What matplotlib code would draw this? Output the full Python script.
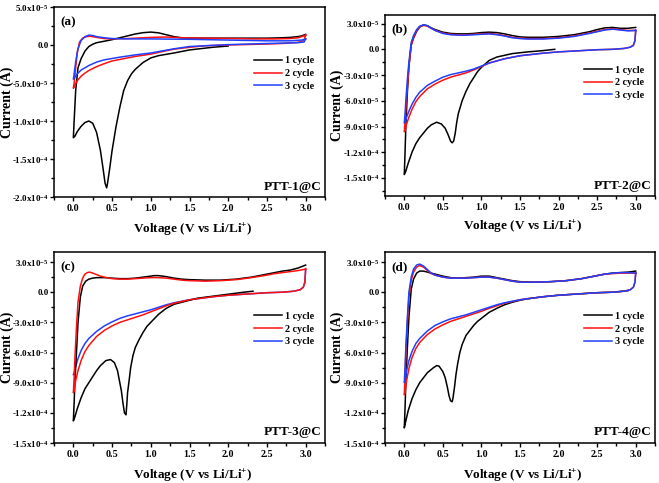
import numpy as np
import matplotlib
matplotlib.use("Agg")
import matplotlib.pyplot as plt
from matplotlib.ticker import AutoMinorLocator

plt.rcParams['font.family'] = 'Liberation Serif'
plt.rcParams['font.weight'] = 'bold'
plt.rcParams['mathtext.fontset'] = 'custom'
plt.rcParams['mathtext.rm'] = 'Liberation Serif:bold'
plt.rcParams['mathtext.bf'] = 'Liberation Serif:bold'
plt.rcParams['mathtext.it'] = 'Liberation Serif:bold:italic'

# ---- data: voltage (V) and current (x1e-5 A) along the sweep ----
# PTT-1@C
a1_v = [2.0, 1.8, 1.5, 1.3, 1.1, 1.0, 0.9, 0.8, 0.75, 0.7, 0.65, 0.6, 0.55, 0.5, 0.47, 0.44, 0.43, 0.41, 0.38, 0.35,
        0.3, 0.25, 0.2, 0.15, 0.1, 0.05, 0.02, 0.0, 0.01, 0.03, 0.06, 0.1, 0.15, 0.2, 0.25, 0.3, 0.4, 0.5, 0.6, 0.7,
        0.8, 0.9, 1.0, 1.1, 1.2, 1.3, 1.4, 1.5, 1.7, 2.0, 2.3, 2.5, 2.7, 2.8, 2.9, 2.95, 3.0]
a1_i = [-0.13, -0.3, -0.65, -1.05, -1.4, -1.7, -2.3, -3.2, -3.8, -4.7, -6.0, -8.2, -10.8, -13.9, -16.2, -18.3, -18.8, -18.2, -16.0, -13.9,
        -11.5, -10.3, -10.0, -10.2, -10.7, -11.4, -12.0, -12.2, -10.0, -6.0, -3.0, -1.8, -0.8, -0.2, 0.1, 0.3, 0.5, 0.7, 0.95, 1.2,
        1.45, 1.62, 1.7, 1.6, 1.35, 1.1, 0.95, 0.9, 0.9, 0.9, 0.9, 0.9, 0.95, 1.0, 1.1, 1.2, 1.4]
a2_v = [3.0, 2.98, 2.9, 2.7, 2.5, 2.0, 1.7, 1.5, 1.3, 1.2, 1.0, 0.8, 0.6, 0.5, 0.4, 0.3, 0.2, 0.15, 0.1, 0.05,
        0.02, 0.0, 0.01, 0.03, 0.05, 0.08, 0.12, 0.17, 0.22, 0.3, 0.4, 0.5, 0.7, 1.0, 1.2, 1.4, 1.7, 2.0, 2.3, 2.6,
        2.8, 2.9, 2.95, 3.0]
a2_i = [1.3, 0.6, 0.35, 0.2, 0.13, 0.0, -0.1, -0.3, -0.55, -0.75, -1.2, -1.5, -1.9, -2.1, -2.45, -2.85, -3.35, -3.7, -4.1, -4.7,
        -5.3, -5.7, -5.0, -3.0, -1.0, 0.4, 0.9, 1.1, 1.15, 1.0, 0.85, 0.8, 0.85, 1.0, 1.05, 0.95, 0.9, 0.85, 0.8, 0.8,
        0.85, 0.95, 1.1, 1.3]
a3_v = [3.0, 2.98, 2.9, 2.5, 2.0, 1.7, 1.5, 1.3, 1.0, 0.8, 0.6, 0.4, 0.3, 0.2, 0.1, 0.05, 0.02, 0.0, 0.01, 0.03,
        0.06, 0.1, 0.15, 0.2, 0.25, 0.3, 0.4, 0.5, 0.7, 1.0, 1.5, 2.0, 2.5, 2.8, 2.95, 3.0]
a3_i = [0.8, 0.4, 0.3, 0.2, 0.05, -0.1, -0.2, -0.5, -1.05, -1.3, -1.6, -1.95, -2.25, -2.7, -3.3, -3.8, -4.2, -4.5, -3.8, -2.2,
        -0.5, 0.6, 1.1, 1.3, 1.25, 1.1, 0.95, 0.85, 0.8, 0.8, 0.75, 0.65, 0.55, 0.55, 0.65, 0.8]

# PTT-2@C
b1_v = [1.95, 1.8, 1.6, 1.4, 1.2, 1.1, 1.0, 0.95, 0.9, 0.85, 0.8, 0.75, 0.7, 0.68, 0.66, 0.64, 0.62, 0.6, 0.57, 0.53,
        0.48, 0.42, 0.35, 0.3, 0.2, 0.15, 0.1, 0.05, 0.02, 0.0, 0.01, 0.02, 0.04, 0.06, 0.09, 0.12, 0.16, 0.2, 0.25, 0.3,
        0.35, 0.4, 0.5, 0.6, 0.7, 0.8, 0.9, 1.0, 1.1, 1.2, 1.3, 1.4, 1.5, 1.6, 1.8, 2.0, 2.2, 2.4, 2.5, 2.6,
        2.7, 2.8, 2.9, 3.0]
b1_i = [0.0, -0.15, -0.3, -0.5, -0.9, -1.3, -2.1, -2.6, -3.3, -4.0, -4.9, -6.0, -7.5, -8.5, -9.8, -10.7, -10.9, -10.7, -10.0, -9.2,
        -8.7, -8.5, -8.8, -9.2, -10.3, -11.0, -12.0, -13.3, -14.2, -14.6, -12.0, -9.0, -5.0, -2.0, 0.5, 1.3, 2.1, 2.6, 2.85, 2.75,
        2.5, 2.3, 2.0, 1.85, 1.8, 1.8, 1.85, 1.95, 2.0, 1.95, 1.8, 1.6, 1.45, 1.4, 1.4, 1.5, 1.7, 2.05, 2.3, 2.5,
        2.55, 2.45, 2.45, 2.55]
b2_v = [3.0, 2.99, 2.97, 2.93, 2.85, 2.7, 2.5, 2.2, 2.0, 1.8, 1.5, 1.3, 1.1, 1.0, 0.9, 0.8, 0.7, 0.6, 0.5, 0.4,
        0.3, 0.2, 0.15, 0.1, 0.06, 0.03, 0.01, 0.0, 0.01, 0.02, 0.04, 0.06, 0.09, 0.12, 0.16, 0.2, 0.25, 0.3, 0.35, 0.4,
        0.5, 0.6, 0.7, 0.8, 0.9, 1.0, 1.1, 1.2, 1.3, 1.4, 1.5, 1.6, 1.8, 2.0, 2.2, 2.4, 2.5, 2.6, 2.7, 2.8,
        2.9, 3.0]
b2_i = [2.2, 1.0, 0.5, 0.25, 0.1, 0.0, -0.05, -0.2, -0.3, -0.45, -0.75, -1.1, -1.6, -2.0, -2.4, -2.75, -3.0, -3.25, -3.6, -4.05,
        -4.6, -5.5, -6.1, -7.0, -7.9, -8.7, -9.5, -9.6, -8.5, -7.0, -4.5, -2.0, 0.5, 1.4, 2.2, 2.6, 2.8, 2.7, 2.45, 2.2,
        1.9, 1.75, 1.7, 1.7, 1.75, 1.8, 1.85, 1.75, 1.6, 1.4, 1.3, 1.25, 1.25, 1.35, 1.55, 1.9, 2.1, 2.3, 2.4, 2.3,
        2.2, 2.2]
b3_v = b2_v
b3_i = [2.2, 1.0, 0.45, 0.25, 0.1, 0.0, -0.05, -0.2, -0.3, -0.45, -0.75, -1.1, -1.6, -1.95, -2.3, -2.55, -2.75, -2.95, -3.25, -3.7,
        -4.2, -5.0, -5.6, -6.4, -7.2, -7.9, -8.5, -8.6, -7.5, -6.0, -3.5, -1.5, 0.8, 1.6, 2.3, 2.7, 2.85, 2.75, 2.45, 2.2,
        1.85, 1.7, 1.65, 1.65, 1.7, 1.75, 1.8, 1.7, 1.55, 1.35, 1.25, 1.2, 1.2, 1.3, 1.5, 1.85, 2.05, 2.25, 2.35, 2.25,
        2.15, 2.2]

# PTT-3@C
c1_v = [2.32, 2.2, 2.0, 1.8, 1.6, 1.5, 1.4, 1.3, 1.2, 1.1, 1.0, 0.95, 0.9, 0.85, 0.8, 0.77, 0.74, 0.72, 0.7, 0.69,
        0.68, 0.66, 0.64, 0.62, 0.6, 0.57, 0.53, 0.48, 0.42, 0.35, 0.3, 0.2, 0.15, 0.1, 0.05, 0.02, 0.0, 0.01, 0.02, 0.04,
        0.06, 0.09, 0.12, 0.16, 0.2, 0.25, 0.3, 0.4, 0.5, 0.6, 0.7, 0.8, 0.9, 1.0, 1.05, 1.1, 1.2, 1.3, 1.4, 1.5,
        1.7, 1.9, 2.1, 2.3, 2.5, 2.6, 2.7, 2.8, 2.9, 3.0]
c1_i = [0.1, 0.0, -0.2, -0.4, -0.6, -0.8, -1.0, -1.2, -1.6, -2.2, -3.0, -3.4, -4.0, -4.7, -5.5, -6.3, -7.5, -8.8, -10.0, -11.2,
        -12.2, -12.0, -11.0, -9.8, -9.0, -7.8, -7.0, -6.7, -6.8, -7.3, -7.8, -9.0, -9.6, -10.5, -11.6, -12.4, -12.8, -11.0, -9.0, -6.0,
        -3.0, -0.5, 0.6, 1.1, 1.3, 1.4, 1.45, 1.45, 1.4, 1.35, 1.35, 1.4, 1.5, 1.6, 1.65, 1.65, 1.55, 1.4, 1.3, 1.25,
        1.2, 1.2, 1.3, 1.5, 1.8, 1.95, 2.1, 2.2, 2.4, 2.7]
c2_v = [3.0, 2.99, 2.97, 2.93, 2.85, 2.7, 2.5, 2.2, 2.0, 1.8, 1.5, 1.3, 1.2, 1.1, 1.0, 0.9, 0.8, 0.7, 0.6, 0.5,
        0.4, 0.3, 0.2, 0.15, 0.1, 0.06, 0.03, 0.01, 0.0, 0.01, 0.02, 0.04, 0.06, 0.09, 0.12, 0.15, 0.18, 0.21, 0.25, 0.3,
        0.35, 0.4, 0.5, 0.6, 0.7, 0.8, 0.9, 1.0, 1.1, 1.2, 1.3, 1.4, 1.5, 1.7, 1.9, 2.1, 2.3, 2.5, 2.6, 2.7,
        2.8, 2.9, 3.0]
c2_i = [2.3, 1.0, 0.5, 0.25, 0.1, 0.0, -0.05, -0.2, -0.3, -0.45, -0.75, -1.1, -1.35, -1.65, -1.95, -2.25, -2.5, -2.75, -3.0, -3.35,
        -3.8, -4.4, -5.3, -5.9, -6.8, -7.8, -8.8, -9.8, -10.0, -8.5, -6.5, -3.5, -1.0, 0.6, 1.4, 1.8, 1.95, 2.0, 1.9, 1.75,
        1.6, 1.5, 1.35, 1.3, 1.3, 1.35, 1.4, 1.45, 1.45, 1.4, 1.3, 1.2, 1.15, 1.1, 1.15, 1.25, 1.45, 1.7, 1.85, 1.95,
        2.05, 2.15, 2.3]
c3_v = [3.0, 2.99, 2.97, 2.93, 2.85, 2.7, 2.5, 2.2, 2.0, 1.8, 1.5, 1.3, 1.2, 1.1, 1.0, 0.9, 0.8, 0.7, 0.6, 0.5,
        0.4, 0.3, 0.2, 0.15, 0.1, 0.06, 0.03, 0.01, 0.0]
c3_i = [2.3, 1.0, 0.5, 0.25, 0.1, 0.0, -0.05, -0.2, -0.3, -0.45, -0.75, -1.05, -1.25, -1.5, -1.75, -1.95, -2.15, -2.35, -2.6, -2.95,
        -3.35, -3.9, -4.6, -5.1, -5.8, -6.6, -7.4, -8.0, -8.2]

# PTT-4@C
d1_v = [2.9, 2.7, 2.5, 2.2, 2.0, 1.8, 1.6, 1.5, 1.4, 1.3, 1.2, 1.1, 1.0, 0.95, 0.9, 0.85, 0.8, 0.75, 0.72, 0.69,
        0.67, 0.65, 0.63, 0.62, 0.6, 0.58, 0.56, 0.53, 0.5, 0.45, 0.42, 0.38, 0.3, 0.2, 0.15, 0.1, 0.05, 0.02, 0.0, 0.01,
        0.02, 0.04, 0.06, 0.09, 0.12, 0.16, 0.2, 0.25, 0.3, 0.4, 0.5, 0.6, 0.7, 0.8, 0.9, 1.0, 1.1, 1.2, 1.3, 1.4,
        1.5, 1.7, 1.9, 2.1, 2.3, 2.5, 2.6, 2.7, 2.8, 2.9, 3.0]
d1_i = [0.15, 0.0, -0.05, -0.2, -0.3, -0.45, -0.65, -0.8, -1.0, -1.25, -1.6, -2.0, -2.6, -2.9, -3.3, -3.8, -4.3, -5.2, -6.0, -7.2,
        -8.2, -9.5, -10.6, -10.9, -10.8, -10.3, -9.5, -8.5, -7.9, -7.35, -7.3, -7.5, -8.0, -9.0, -9.7, -10.6, -11.8, -12.8, -13.5, -11.5,
        -9.0, -5.5, -2.5, 0.3, 1.3, 1.9, 2.1, 2.1, 2.0, 1.8, 1.6, 1.45, 1.4, 1.45, 1.5, 1.6, 1.6, 1.45, 1.3, 1.15,
        1.05, 1.0, 1.05, 1.15, 1.35, 1.65, 1.8, 1.9, 1.95, 2.0, 2.1]
d2_v = [3.0, 2.99, 2.97, 2.93, 2.85, 2.7, 2.5, 2.2, 2.0, 1.8, 1.5, 1.3, 1.2, 1.1, 1.0, 0.9, 0.8, 0.7, 0.6, 0.5,
        0.4, 0.3, 0.2, 0.15, 0.1, 0.06, 0.03, 0.01, 0.0, 0.01, 0.02, 0.04, 0.06, 0.09, 0.12, 0.16, 0.2, 0.25, 0.3, 0.35,
        0.4, 0.5, 0.6, 0.7, 0.8, 0.9, 1.0, 1.1, 1.2, 1.3, 1.4, 1.5, 1.7, 1.9, 2.1, 2.3, 2.5, 2.6, 2.7, 2.8,
        2.9, 3.0]
d2_i = [1.9, 1.0, 0.5, 0.25, 0.1, 0.0, -0.05, -0.2, -0.3, -0.45, -0.75, -1.1, -1.35, -1.6, -1.9, -2.15, -2.4, -2.65, -2.9, -3.25,
        -3.65, -4.2, -5.0, -5.6, -6.5, -7.6, -8.8, -10.0, -10.2, -8.5, -6.0, -3.0, -0.5, 1.2, 2.0, 2.5, 2.65, 2.5, 2.15, 1.85,
        1.7, 1.5, 1.4, 1.4, 1.4, 1.45, 1.5, 1.5, 1.4, 1.25, 1.1, 1.0, 1.0, 1.05, 1.15, 1.35, 1.65, 1.8, 1.85, 1.9,
        1.9, 1.9]
d3_v = d2_v
d3_i = [1.9, 1.0, 0.5, 0.25, 0.1, 0.0, -0.05, -0.2, -0.3, -0.45, -0.75, -1.05, -1.25, -1.5, -1.75, -2.0, -2.25, -2.45, -2.65, -2.95,
        -3.3, -3.85, -4.6, -5.1, -5.9, -6.8, -7.8, -8.8, -9.0, -7.5, -5.5, -2.5, 0.0, 1.5, 2.3, 2.7, 2.8, 2.6, 2.25, 1.9,
        1.7, 1.5, 1.4, 1.4, 1.4, 1.45, 1.5, 1.5, 1.4, 1.25, 1.1, 1.0, 1.0, 1.05, 1.15, 1.35, 1.65, 1.8, 1.9, 1.95,
        1.95, 1.9]

cycle_names = ['1 cycle', '2 cycle', '3 cycle']
cycle_colors = ['black', '#ff1010', '#2040ff']
panel_tags = ['(a)', '(b)', '(c)', '(d)']
sample_names = ['PTT-1@C', 'PTT-2@C', 'PTT-3@C', 'PTT-4@C']

yt_a = [5e-5, 0.0, -5e-5, -1e-4, -1.5e-4, -2e-4]
yl_a = [r'5.0x10$^{-5}$', '0.0', r'-5.0x10$^{-5}$', r'-1.0x10$^{-4}$', r'-1.5x10$^{-4}$', r'-2.0x10$^{-4}$']
yt_b = [3e-5, 0.0, -3e-5, -6e-5, -9e-5, -1.2e-4, -1.5e-4]
yl_b = [r'3.0x10$^{-5}$', '0.0', r'-3.0x10$^{-5}$', r'-6.0x10$^{-5}$', r'-9.0x10$^{-5}$', r'-1.2x10$^{-4}$', r'-1.5x10$^{-4}$']

curves = [
    [(a1_v, a1_i), (a2_v, a2_i), (a3_v, a3_i)],
    [(b1_v, b1_i), (b2_v, b2_i), (b3_v, b3_i)],
    [(c1_v, c1_i), (c2_v, c2_i), (c3_v, c3_i)],
    [(d1_v, d1_i), (d2_v, d2_i), (d3_v, d3_i)],
]
ylims = [(-2e-4, 5e-5), (-1.71e-4, 4.0e-5), (-1.5e-4, 4.0e-5), (-1.5e-4, 4.0e-5)]
yticks = [(yt_a, yl_a), (yt_b, yl_b), (yt_b, yl_b), (yt_b, yl_b)]

# axes boxes in pixels: left, top, right, bottom
W, H = 659, 483
boxes = [(54, 7, 325, 197), (385, 15, 655, 196), (54, 252, 325, 443), (385, 252, 655, 443)]
leg_y = [0.65, 0.626, 0.597, 0.597]

fig = plt.figure(figsize=(W / 100, H / 100), dpi=100)
for k in range(4):
    l, t, r, b = boxes[k]
    ax = fig.add_axes([l / W, 1 - b / H, (r - l) / W, (b - t) / H])
    z = [2, 3, 1] if k == 2 else [2, 2.1, 2.2]
    for j, (v, i) in enumerate(curves[k]):
        ax.plot(v, np.array(i) * 1e-5, color=cycle_colors[j], lw=1.1,
                label=cycle_names[j], zorder=z[j], solid_joinstyle='round')
    ax.set_xlim(-0.25, 3.25)
    ax.set_ylim(*ylims[k])
    ax.set_xticks([0, 0.5, 1, 1.5, 2, 2.5, 3])
    ax.set_xticklabels(['0.0', '0.5', '1.0', '1.5', '2.0', '2.5', '3.0'])
    ax.xaxis.set_minor_locator(AutoMinorLocator(2))
    ax.set_yticks(yticks[k][0])
    ax.set_yticklabels(yticks[k][1])
    ax.yaxis.set_minor_locator(AutoMinorLocator(2))
    ax.tick_params(which='both', direction='out', width=1.0, labelsize=7.2, pad=2)
    ax.tick_params(axis='y', labelsize=6.5, pad=0.8)
    ax.tick_params(which='major', length=3.2)
    ax.tick_params(which='minor', length=2)
    for s in ax.spines.values():
        s.set_linewidth(1.1)
    ax.set_xlabel(r'Voltage (V vs Li/Li$^{+}$)', fontsize=9.5, fontweight='bold')
    ax.set_ylabel('Current (A)', fontsize=10, fontweight='bold')
    ax.xaxis.set_label_coords(0.51, -0.128)
    # the label anchor is its right edge after rotation
    ax.yaxis.set_label_coords(-0.147 if k % 2 == 0 else -0.152, 0.5)
    ax.text(0.022, 0.92, panel_tags[k], transform=ax.transAxes, fontsize=9.5,
            fontweight='bold', va='center', ha='left')
    ax.text(0.988, 0.055, sample_names[k], transform=ax.transAxes, fontsize=9.5,
            fontweight='bold', va='center', ha='right')
    ax.legend(loc='center right', bbox_to_anchor=(0.975, leg_y[k]), frameon=False,
              fontsize=7.3, handlelength=2.8, handletextpad=0.3, labelspacing=0.35,
              borderaxespad=0)

fig.savefig('out.png', dpi=100)
